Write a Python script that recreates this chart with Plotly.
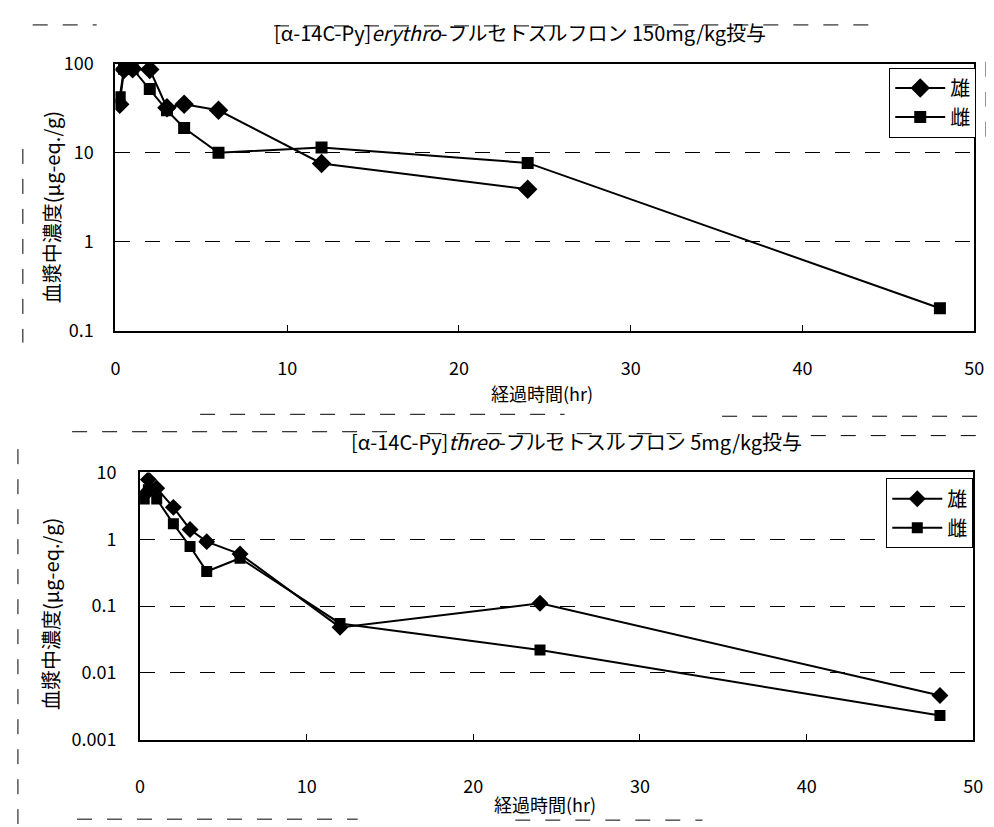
import plotly.graph_objects as go

# ---------------- data ----------------
time_top_male = [0.25, 0.5, 1, 2, 3, 4, 6, 12, 24]
conc_top_male = [35, 86, 88, 86, 32, 35, 30, 7.6, 3.9]
time_top_female = [0.25, 0.5, 1, 2, 3, 4, 6, 12, 24, 48]
conc_top_female = [42, 88, 88, 52, 30, 19, 10, 11.5, 7.7, 0.18]

time_bot_male = [0.25, 0.5, 1, 2, 3, 4, 6, 12, 24, 48]
conc_bot_male = [4.6, 7.8, 5.8, 3.0, 1.4, 0.92, 0.6, 0.048, 0.11, 0.0046]
time_bot_female = [0.25, 0.5, 1, 2, 3, 4, 6, 12, 24, 48]
conc_bot_female = [4.0, 5.5, 4.0, 1.7, 0.78, 0.33, 0.52, 0.055, 0.022, 0.0023]

x_ticks = [0, 10, 20, 30, 40, 50]
y_ticks_top = [0.1, 1, 10, 100]
y_ticks_bot = [0.001, 0.01, 0.1, 1, 10]

title_top = "[α-14C-Py]<i>erythro</i>-フルセトスルフロン 150mg/kg投与"
title_bot = "[α-14C-Py]<i>threo</i>-フルセトスルフロン 5mg/kg投与"
x_title = "経過時間(hr)"
y_title = "血漿中濃度(μg-eq./g)"
name_male = "雄"
name_female = "雌"

W, H = 994, 827
FONT = "Noto Sans CJK JP, Liberation Sans, sans-serif"


def px(x):
    return x / W


def py(y):
    return 1 - y / H


fig = go.Figure()

line = dict(color="black", width=2)
fig.add_trace(go.Scatter(x=time_top_male, y=conc_top_male, name=name_male, mode="lines+markers",
                         line=line, marker=dict(symbol="diamond", size=15, color="black"),
                         xaxis="x", yaxis="y", legend="legend"))
fig.add_trace(go.Scatter(x=time_top_female, y=conc_top_female, name=name_female, mode="lines+markers",
                         line=line, marker=dict(symbol="square", size=12, color="black"),
                         xaxis="x", yaxis="y", legend="legend"))
fig.add_trace(go.Scatter(x=time_bot_male, y=conc_bot_male, name=name_male, mode="lines+markers",
                         line=line, marker=dict(symbol="diamond", size=13, color="black"),
                         xaxis="x2", yaxis="y2", legend="legend2"))
fig.add_trace(go.Scatter(x=time_bot_female, y=conc_bot_female, name=name_female, mode="lines+markers",
                         line=line, marker=dict(symbol="square", size=11, color="black"),
                         xaxis="x2", yaxis="y2", legend="legend2"))

axis_common = dict(showline=True, linecolor="black", linewidth=2, mirror=True,
                   ticks="inside", ticklen=6, tickcolor="black",
                   tickfont=dict(family=FONT, size=18, color="black"), zeroline=False)

fig.update_layout(
    width=W, height=H,
    margin=dict(l=0, r=0, t=0, b=0),
    paper_bgcolor="white", plot_bgcolor="white",
    font=dict(family=FONT, color="black"),
    xaxis=dict(domain=[px(104), px(976)], range=[0, 50], tickvals=x_ticks,
               showgrid=False, anchor="y", ticklabelstandoff=20, **axis_common),
    yaxis=dict(domain=[py(318), py(42)], type="log", range=[-1, 2], tickvals=y_ticks_top,
               ticktext=[str(v) for v in y_ticks_top],
               showgrid=True, gridcolor="black", gridwidth=1, griddash="longdash",
               anchor="x", ticklabelstandoff=16, **axis_common),
    xaxis2=dict(domain=[px(129), px(975)], range=[0, 50], tickvals=x_ticks,
                showgrid=False, anchor="y2", ticklabelstandoff=30, **axis_common),
    yaxis2=dict(domain=[py(740), py(464)], type="log", range=[-3, 1], tickvals=y_ticks_bot,
                ticktext=[str(v) for v in y_ticks_bot],
                showgrid=True, gridcolor="black", gridwidth=1, griddash="longdash",
                anchor="x2", ticklabelstandoff=18, **axis_common),
    legend=dict(x=px(978), xanchor="right", y=py(46), yanchor="top",
                bgcolor="white", bordercolor="black", borderwidth=1,
                font=dict(family=FONT, size=20, color="black"), itemwidth=50,
                tracegroupgap=4),
    legend2=dict(x=px(975), xanchor="right", y=py(470), yanchor="top",
                 bgcolor="white", bordercolor="black", borderwidth=1,
                 font=dict(family=FONT, size=20, color="black"), itemwidth=50,
                 tracegroupgap=4),
    showlegend=True,
)

ann_font = dict(family=FONT, size=20, color="black")
fig.add_annotation(text=title_top, x=px(515), y=py(10), xref="paper", yref="paper",
                   yanchor="middle", showarrow=False, font=ann_font)
fig.add_annotation(text=title_bot, x=px(572), y=py(432), xref="paper", yref="paper",
                   yanchor="middle", showarrow=False, font=ann_font)
fig.add_annotation(text=x_title, x=px(537), y=py(382), xref="paper", yref="paper",
                   yanchor="middle", showarrow=False, font=dict(family=FONT, size=18, color="black"))
fig.add_annotation(text=x_title, x=px(540), y=py(806), xref="paper", yref="paper",
                   yanchor="middle", showarrow=False, font=dict(family=FONT, size=18, color="black"))
fig.add_annotation(text=y_title, x=px(22), y=py(190), xref="paper", yref="paper",
                   yanchor="middle", showarrow=False, textangle=-90,
                   font=dict(family=FONT, size=20, color="black"))
fig.add_annotation(text=y_title, x=px(22), y=py(610), xref="paper", yref="paper",
                   yanchor="middle", showarrow=False, textangle=-90,
                   font=dict(family=FONT, size=20, color="black"))

# faint scan border lines of the surrounding page
scan = dict(color="black", width=1, dash="longdash")
for (x0, y0, x1, y1) in [(20, 2, 85, 2), (265, 3, 560, 3), (640, 2, 880, 2),
                          (190, 404, 560, 404), (720, 406, 980, 406),
                          (60, 422, 380, 422), (420, 424, 700, 424), (810, 426, 994, 426),
                          (65, 822, 350, 822), (510, 823, 700, 823),
                          (988, 40, 988, 130), (5, 440, 5, 827), (10, 130, 10, 330)]:
    fig.add_shape(type="line", xref="paper", yref="paper",
                  x0=px(x0), y0=py(y0), x1=px(x1), y1=py(y1), line=scan)

fig.write_html("out.html")
